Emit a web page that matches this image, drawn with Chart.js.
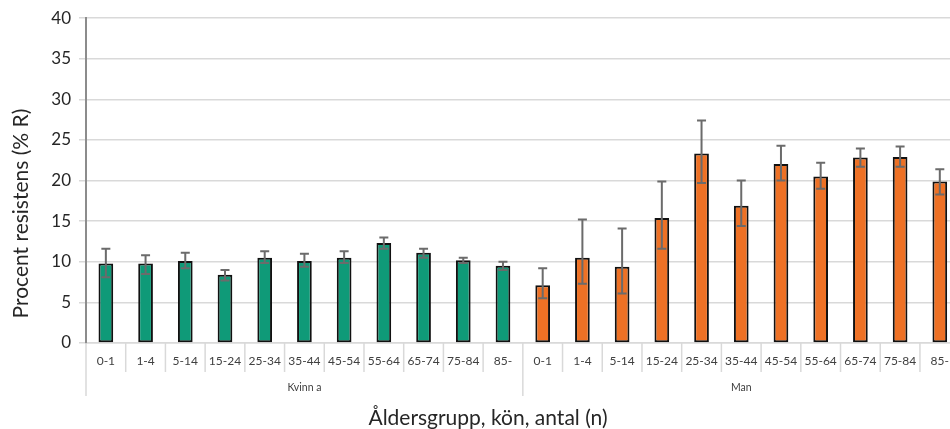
<!DOCTYPE html>
<html>
<head>
<meta charset="utf-8">
<script src="https://cdn.jsdelivr.net/npm/chart.js@4/dist/chart.umd.min.js"></script>
<style>
  html, body { margin: 0; padding: 0; background: #fff; overflow: hidden; }
  #wrap { width: 960px; height: 429px; }
</style>
</head>
<body>
<div id="wrap"><canvas id="chart" width="960" height="429"></canvas></div>
<script>
// ─────────────────────────────────────────────
//  Data
// ─────────────────────────────────────────────

const AGE_GROUPS  = ['0-1', '1-4', '5-14', '15-24', '25-34', '35-44', '45-54', '55-64', '65-74', '75-84', '85-'];
const SEX_GROUPS  = ['Kvinn a', 'Man'];

const kvinnaValues = [9.8, 9.8, 10.1, 8.4, 10.5, 10.1, 10.5, 12.3, 11.1, 10.2, 9.5];
const kvinnaLow    = [8.1, 8.5, 9.2, 7.7, 9.85, 9.4, 9.85, 11.6, 10.5, 9.85, 9.0];
const kvinnaHigh   = [11.6, 10.8, 11.1, 9.0, 11.3, 11.0, 11.3, 13.0, 11.6, 10.5, 10.0];

const manValues    = [7.1, 10.5, 9.4, 15.4, 23.35, 16.9, 22.05, 20.5, 22.85, 22.9, 19.9];
const manLow       = [5.5, 7.3, 6.1, 11.6, 19.7, 14.4, 20.0, 19.0, 21.7, 21.7, 18.3];
const manHigh      = [9.2, 15.2, 14.1, 19.9, 27.4, 20.0, 24.3, 22.2, 23.95, 24.2, 21.4];

const Y_TICKS = [0, 5, 10, 15, 20, 25, 30, 35, 40];

// ─────────────────────────────────────────────
//  Styles
// ─────────────────────────────────────────────

const GREEN     = '#0f9a78';
const ORANGE    = '#ee7125';
const GRID      = '#d9d9d9';
const ERR_COLOR = '#6b6b6b';
const TEXT      = '#404040';
const FONT      = 'Lato, "Open Sans", sans-serif';

const labels = [...AGE_GROUPS, ...AGE_GROUPS];
const values = [...kvinnaValues, ...manValues];
const lows   = [...kvinnaLow, ...manLow];
const highs  = [...kvinnaHigh, ...manHigh];
const colors = labels.map((_, i) => i < AGE_GROUPS.length ? GREEN : ORANGE);

// ─────────────────────────────────────────────
//  Plugins
// ─────────────────────────────────────────────

const errorBars = {
  id: 'errorBars',
  afterDatasetsDraw(chart) {
    const { ctx: c, scales: { x, y } } = chart;
    c.save();
    c.strokeStyle = ERR_COLOR;
    c.lineWidth = 2;
    values.forEach((_, i) => {
      const px = x.getPixelForValue(i);
      const yt = y.getPixelForValue(highs[i]);
      const yb = y.getPixelForValue(lows[i]);
      c.beginPath();
      c.moveTo(px, yt); c.lineTo(px, yb);
      c.moveTo(px - 4.5, yt); c.lineTo(px + 4.5, yt);
      c.moveTo(px - 4.5, yb); c.lineTo(px + 4.5, yb);
      c.stroke();
    });
    c.restore();
  }
};

const categoryAxis = {
  id: 'categoryAxis',
  afterDraw(chart) {
    const { ctx: c, chartArea: { left, bottom }, scales: { x } } = chart;
    const n = labels.length;
    const half = (x.getPixelForValue(1) - x.getPixelForValue(0)) / 2;
    c.save();
    c.strokeStyle = GRID;
    c.lineWidth = 1.5;
    // separators between categories
    for (let i = 0; i <= n; i++) {
      const px = x.getPixelForValue(i) - half;
      const groupEdge = i % AGE_GROUPS.length === 0;
      c.beginPath();
      c.moveTo(px, bottom);
      c.lineTo(px, bottom + (groupEdge ? 53 : 29));
      c.stroke();
    }
    // group labels
    c.fillStyle = TEXT;
    c.font = `10.5px ${FONT}`;
    c.textAlign = 'center';
    c.textBaseline = 'middle';
    SEX_GROUPS.forEach((g, k) => {
      const i0 = k * AGE_GROUPS.length;
      const i1 = i0 + AGE_GROUPS.length - 1;
      const cx = (x.getPixelForValue(i0) + x.getPixelForValue(i1)) / 2;
      c.fillText(g, cx, bottom + 45);
    });
    // axis titles
    c.fillStyle = '#262626';
    c.font = `21px ${FONT}`;
    c.fillText('Åldersgrupp, kön, antal (n)', 488, bottom + 75);
    c.font = `21px ${FONT}`;
    c.translate(21, (chart.chartArea.top + bottom) / 2 + 33);
    c.rotate(-Math.PI / 2);
    c.fillText('Procent resistens (% R)', 0, 0);
    c.restore();
  }
};

// ─────────────────────────────────────────────
//  Chart
// ─────────────────────────────────────────────

new Chart(document.getElementById('chart').getContext('2d'), {
  type: 'bar',
  data: {
    labels,
    datasets: [{
      data: values,
      backgroundColor: colors,
      borderColor: '#111',
      borderWidth: 2,
      borderSkipped: false,
      categoryPercentage: 1,
      barPercentage: 0.37,
    }]
  },
  options: {
    responsive: false,
    animation: false,
    layout: { padding: { top: 17, right: 0, bottom: 0, left: 0 } },
    plugins: { legend: { display: false }, tooltip: { enabled: false } },
    scales: {
      x: {
        grid: { display: false, drawTicks: false },
        border: { color: GRID, width: 1.5 },
        ticks: { color: TEXT, font: { family: FONT, size: 12 }, padding: 11, maxRotation: 0, autoSkip: false },
        afterFit: s => { s.height = 86; },
      },
      y: {
        min: 0,
        max: 40,
        afterBuildTicks: s => { s.ticks = Y_TICKS.map(v => ({ value: v })); },
        grid: { color: GRID, lineWidth: 1.5, tickLength: 7 },
        border: { color: '#8c8c8c', width: 2 },
        ticks: { color: '#262626', font: { family: FONT, size: 17 }, padding: 8 },
        afterFit: s => { s.width = 86; },
      }
    }
  },
  plugins: [errorBars, categoryAxis]
});
</script>
</body>
</html>
